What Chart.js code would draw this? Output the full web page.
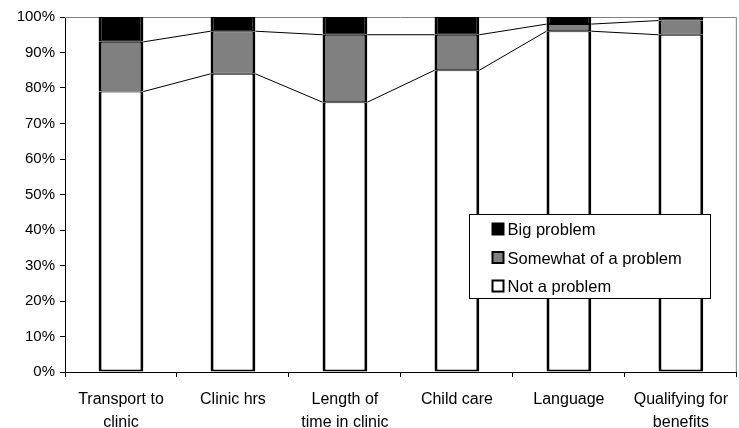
<!DOCTYPE html>
<html>
<head>
<meta charset="utf-8">
<script src="https://cdn.jsdelivr.net/npm/chart.js@4"></script>
<style>
  body { margin: 0; background: #fff; }
  #wrap { width: 739px; height: 428px; }
</style>
</head>
<body>
<div id="wrap"><canvas id="barrier-chart" width="739" height="428"></canvas></div>
<script>
// categories and percentages
var categories = [
    ['Transport to', 'clinic'],
    'Clinic hrs',
    ['Length of', 'time in clinic'],
    'Child care',
    'Language',
    ['Qualifying for', 'benefits']
];
var notProblem = [79, 84, 76, 85, 96, 95];
var somewhatProblem = [14, 12, 19, 10, 2, 4];
var bigProblem = [7, 4, 5, 5, 2, 1];
var yTicks = [0, 10, 20, 30, 40, 50, 60, 70, 80, 90, 100];

var FONT = "'Liberation Sans', Arial, sans-serif";

// thin lines joining the segment tops of neighbouring bars (excel "series lines")
var seriesLines = {
    id: 'seriesLines',
    afterDatasetsDraw: function(chart) {
        var ctx = chart.ctx;
        ctx.save();
        ctx.strokeStyle = '#000';
        ctx.lineWidth = 1;
        [0, 1].forEach(function(di) {
            var bars = chart.getDatasetMeta(di).data;
            for (var i = 0; i < bars.length - 1; i++) {
                var a = bars[i], b = bars[i + 1];
                ctx.beginPath();
                ctx.moveTo(a.x + a.width / 2, a.y);
                ctx.lineTo(b.x - b.width / 2, b.y);
                ctx.stroke();
            }
        });
        ctx.restore();
    }
};

// gray plot-area border on top and right
var plotBorder = {
    id: 'plotBorder',
    beforeDatasetsDraw: function(chart) {
        var a = chart.chartArea, ctx = chart.ctx;
        ctx.save();
        ctx.strokeStyle = '#808080';
        ctx.lineWidth = 1;
        ctx.beginPath();
        ctx.moveTo(a.left, a.top + 0.5);
        ctx.lineTo(a.right - 0.5, a.top + 0.5);
        ctx.lineTo(a.right - 0.5, a.bottom);
        ctx.stroke();
        ctx.restore();
    }
};

// legend box inside the plot, lower right
var boxLegend = {
    id: 'boxLegend',
    afterDraw: function(chart) {
        var a = chart.chartArea, ctx = chart.ctx;
        var x = Math.round(a.right - 268) + 0.5, y = Math.round(a.top + 197) + 0.5;
        var w = 241, h = 84;
        ctx.save();
        ctx.fillStyle = '#fff';
        ctx.fillRect(x, y, w, h);
        ctx.strokeStyle = '#000';
        ctx.lineWidth = 1;
        ctx.strokeRect(x, y, w, h);
        ctx.font = '16.5px ' + FONT;
        ctx.textBaseline = 'middle';
        var ds = chart.data.datasets.slice().reverse();
        ds.forEach(function(d, i) {
            var cy = y + 15 + i * 28.5;
            ctx.fillStyle = d.backgroundColor;
            ctx.fillRect(x + 23, cy - 6, 11, 11);
            ctx.strokeStyle = '#000';
            ctx.lineWidth = 2;
            ctx.strokeRect(x + 23, cy - 6, 11, 11);
            ctx.fillStyle = '#000';
            ctx.fillText(d.label, x + 38, cy + 1);
        });
        ctx.restore();
    }
};

var ctx = document.getElementById('barrier-chart').getContext('2d');
var chart = new Chart(ctx, {
    type: 'bar',
    data: {
        labels: categories,
        datasets: [{
            label: 'Not a problem',
            data: notProblem,
            backgroundColor: '#ffffff',
            borderColor: '#000',
            borderWidth: { top: 1, bottom: 2, left: 3, right: 3 },
            borderSkipped: false
        }, {
            label: 'Somewhat of a problem',
            data: somewhatProblem,
            backgroundColor: '#808080',
            borderColor: '#000',
            borderWidth: { top: 1, bottom: 1, left: 3, right: 3 },
            borderSkipped: false
        }, {
            label: 'Big problem',
            data: bigProblem,
            backgroundColor: '#000000',
            borderColor: '#000',
            borderWidth: { top: 1, bottom: 1, left: 3, right: 3 },
            borderSkipped: false
        }]
    },
    options: {
        responsive: false,
        animation: false,
        categoryPercentage: 1,
        barPercentage: 0.4,
        layout: { padding: { top: 17, right: 0, left: 0, bottom: 0 } },
        plugins: {
            legend: { display: false },
            tooltip: { enabled: false }
        },
        scales: {
            x: {
                stacked: true,
                afterFit: function(s) { s.height = 56; },
                grid: { offset: true, drawOnChartArea: false, drawTicks: true, tickLength: 5, color: '#000' },
                border: { display: true, color: '#000', width: 1 },
                ticks: {
                    color: '#000',
                    padding: 11,
                    maxRotation: 0,
                    autoSkip: false,
                    font: { family: FONT, size: 16, lineHeight: 1.45 }
                }
            },
            y: {
                stacked: true,
                min: 0,
                max: 100,
                afterFit: function(s) { s.width = 65; },
                afterBuildTicks: function(s) {
                    s.ticks = yTicks.map(function(v) { return { value: v }; });
                },
                grid: { drawOnChartArea: false, drawTicks: true, tickLength: 5, color: '#000' },
                border: { display: true, color: '#000', width: 1 },
                ticks: {
                    color: '#000',
                    padding: 5,
                    font: { family: FONT, size: 15 },
                    callback: function(v) { return v + '%'; }
                }
            }
        }
    },
    plugins: [plotBorder, seriesLines, boxLegend]
});
</script>
</body>
</html>
